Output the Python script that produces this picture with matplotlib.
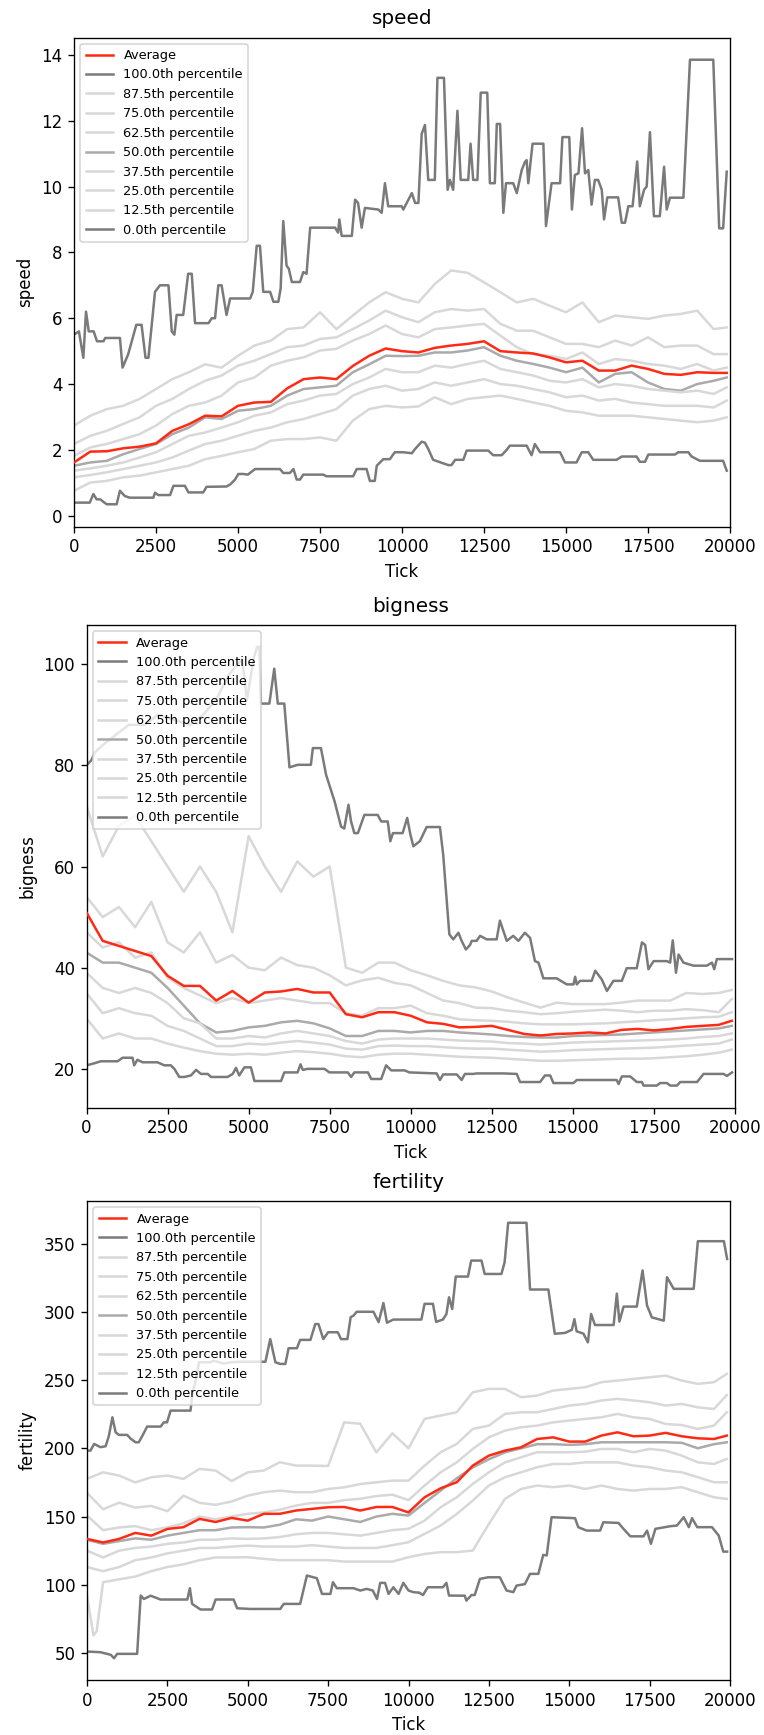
import matplotlib
matplotlib.use("Agg")
import matplotlib.pyplot as plt

# common tick grid for the smoother percentile lines
grid_ticks = list(range(0, 20000, 500)) + [19900]

pct_labels = ["100.0th percentile", "87.5th percentile", "75.0th percentile",
              "62.5th percentile", "50.0th percentile", "37.5th percentile",
              "25.0th percentile", "12.5th percentile", "0.0th percentile"]

# ---------------- speed ----------------
speed_avg = [1.62, 1.95, 1.96, 2.05, 2.1, 2.2, 2.58, 2.78, 3.04, 3.02, 3.34, 3.44, 3.46, 3.87, 4.15,
             4.2, 4.15, 4.55, 4.86, 5.08, 5.0,
             4.96, 5.1, 5.17, 5.22, 5.3, 5.0, 4.96, 4.93, 4.81, 4.66, 4.71, 4.41, 4.41, 4.56, 4.46,
             4.31, 4.28, 4.36, 4.34, 4.34]
speed_max = [(0, 5.5), (150, 5.6), (285, 4.8), (366, 6.2), (450, 5.6), (600, 5.6), (700, 5.3), (900, 5.3),
             (950, 5.4), (1400, 5.4), (1480, 4.5), (1650, 4.9), (1900, 5.8), (2060, 5.8), (2180, 4.8),
             (2270, 4.8), (2470, 6.8), (2620, 7.0), (2880, 7.0), (2980, 5.6), (3060, 5.5), (3130, 6.1),
             (3330, 6.1), (3480, 7.35), (3590, 7.35), (3690, 5.85), (4100, 5.85), (4200, 6.0), (4300, 6.0),
             (4400, 7.0), (4500, 7.0), (4650, 6.1), (4760, 6.6), (5370, 6.6), (5450, 6.8), (5570, 8.2),
             (5670, 8.2), (5770, 6.8), (5980, 6.8), (6080, 6.5), (6230, 6.5), (6300, 6.9), (6380, 8.95),
             (6480, 7.6), (6550, 7.5), (6640, 7.1), (6890, 7.1), (6990, 7.4), (7090, 7.35), (7200, 8.75),
             (7960, 8.75), (8050, 8.6), (8090, 9.0), (8160, 8.5), (8470, 8.5), (8570, 9.6), (8660, 9.5),
             (8770, 8.75), (8870, 9.35), (9280, 9.3), (9380, 9.2), (9480, 10.1), (9580, 9.4), (9990, 9.4),
             (10040, 9.3), (10300, 9.8), (10400, 9.5), (10500, 9.5), (10600, 11.6), (10700, 11.87),
             (10800, 10.2), (11000, 10.2), (11080, 13.3), (11280, 13.3), (11390, 9.9), (11460, 10.2),
             (11560, 9.9), (11690, 12.3), (11790, 10.2), (12020, 10.2), (12090, 11.3), (12170, 10.2),
             (12300, 10.2), (12400, 12.85), (12600, 12.85), (12680, 10.1), (12830, 10.1), (12890, 11.9),
             (12990, 11.9), (13090, 9.2), (13170, 10.1), (13390, 10.1), (13500, 9.8), (13650, 10.5),
             (13750, 10.75), (13800, 10.8), (13850, 10.1), (13980, 11.3), (14310, 11.3), (14390, 8.8),
             (14560, 10.1), (14820, 10.1), (14890, 11.5), (15100, 11.5), (15180, 9.3), (15270, 10.35),
             (15380, 10.4), (15490, 11.77), (15580, 10.4), (15680, 10.5), (15780, 9.45), (15880, 10.2),
             (15980, 10.2), (16090, 9.9), (16160, 9.0), (16260, 9.67), (16590, 9.67), (16700, 8.9),
             (16800, 8.9), (16900, 9.4), (17030, 9.4), (17170, 10.76), (17250, 9.4), (17380, 9.9),
             (17460, 10.0), (17560, 11.65), (17680, 9.1), (17860, 9.1), (17990, 10.6), (18070, 9.3),
             (18170, 9.66), (18580, 9.66), (18780, 13.85), (19490, 13.85), (19670, 8.73), (19790, 8.73),
             (19900, 10.45)]
speed_p875 = [2.74, 3.04, 3.24, 3.34, 3.55, 3.85, 4.15, 4.36, 4.6, 4.5, 4.86, 5.17, 5.32, 5.67, 5.72,
              6.18, 5.67, 6.08, 6.48, 6.79, 6.59,
              6.48, 7.04, 7.45, 7.38, 7.09, 6.79, 6.48, 6.59, 6.38, 6.18, 6.48, 5.88, 6.08, 6.03, 5.98,
              6.08, 6.13, 6.23, 5.67, 5.72]
speed_p75 = [2.18, 2.43, 2.58, 2.79, 2.99, 3.34, 3.55, 3.85, 4.1, 4.26, 4.56, 4.71, 4.91, 5.12, 5.17,
             5.37, 5.42, 5.67, 5.93, 6.23, 6.03,
             5.88, 6.18, 6.28, 6.23, 6.28, 5.83, 5.62, 5.62, 5.42, 5.22, 5.22, 5.12, 5.32, 5.17, 5.42,
             5.12, 5.17, 5.17, 4.91, 4.91]
speed_p625 = [1.82, 2.08, 2.18, 2.33, 2.48, 2.74, 3.09, 3.34, 3.44, 3.65, 4.05, 4.2, 4.56, 4.71, 4.81,
              5.02, 5.07, 5.32, 5.52, 5.78, 5.52,
              5.42, 5.67, 5.72, 5.78, 5.83, 5.47, 5.12, 4.91, 4.86, 4.76, 4.96, 4.61, 4.76, 4.71, 4.61,
              4.56, 4.46, 4.61, 4.41, 4.5]
speed_p50 = [1.52, 1.62, 1.67, 1.87, 2.03, 2.18, 2.48, 2.68, 2.99, 2.94, 3.19, 3.24, 3.34, 3.65, 3.85,
             3.9, 3.95, 4.36, 4.6, 4.86, 4.85,
             4.86, 4.96, 4.96, 5.02, 5.12, 4.86, 4.71, 4.61, 4.5, 4.36, 4.5, 4.05, 4.31, 4.36, 4.05,
             3.85, 3.8, 4.0, 4.1, 4.2]
speed_p375 = [1.37, 1.44, 1.52, 1.62, 1.77, 1.93, 2.18, 2.43, 2.53, 2.68, 2.84, 3.04, 3.14, 3.39, 3.5,
              3.65, 3.7, 4.0, 4.2, 4.46, 4.36,
              4.36, 4.56, 4.5, 4.61, 4.71, 4.46, 4.36, 4.26, 4.1, 4.05, 4.15, 3.9, 4.0, 3.95, 3.85,
              3.8, 3.75, 3.8, 3.7, 3.9]
speed_p25 = [1.17, 1.24, 1.32, 1.42, 1.52, 1.62, 1.77, 1.98, 2.18, 2.28, 2.43, 2.58, 2.68, 2.84, 2.94,
             3.09, 3.24, 3.65, 3.85, 3.95, 3.8,
             3.85, 4.05, 3.95, 4.05, 4.15, 4.0, 3.95, 3.85, 3.75, 3.6, 3.65, 3.5, 3.55, 3.44, 3.39,
             3.34, 3.34, 3.34, 3.29, 3.5]
speed_p125 = [0.76, 1.01, 1.06, 1.17, 1.22, 1.32, 1.42, 1.52, 1.72, 1.82, 1.93, 2.03, 2.28, 2.33, 2.33,
              2.38, 2.28, 2.89, 3.24, 3.34, 3.29,
              3.32, 3.6, 3.39, 3.55, 3.6, 3.65, 3.55, 3.44, 3.34, 3.19, 3.14, 3.04, 3.04, 3.04, 2.99,
              2.94, 2.89, 2.84, 2.89, 2.99]
speed_min = [(0, 0.4), (480, 0.4), (590, 0.66), (690, 0.5), (800, 0.5), (900, 0.42), (1000, 0.35),
             (1300, 0.35), (1400, 0.76), (1550, 0.6), (1700, 0.55), (2420, 0.55), (2470, 0.7), (2570, 0.63),
             (2930, 0.63), (3030, 0.91), (3380, 0.91), (3490, 0.71), (3940, 0.71), (4040, 0.88),
             (4650, 0.89), (4760, 0.95), (4910, 1.1), (5010, 1.27), (5160, 1.27), (5300, 1.25),
             (5520, 1.42), (6280, 1.42), (6380, 1.3), (6580, 1.3), (6690, 1.42), (6790, 1.1), (6890, 1.1),
             (6990, 1.25), (7600, 1.25), (7700, 1.2), (8510, 1.2), (8620, 1.42), (8920, 1.42), (9020, 1.06),
             (9170, 1.06), (9230, 1.52), (9430, 1.72), (9630, 1.72), (9780, 1.93), (10040, 1.93),
             (10300, 1.9), (10400, 2.03), (10600, 2.25), (10700, 2.22), (10800, 2.03), (10950, 1.70),
             (11410, 1.54), (11510, 1.54), (11620, 1.70), (11870, 1.70), (11970, 1.98), (12630, 1.98),
             (12780, 1.84), (13040, 1.84), (13170, 1.98), (13290, 2.13), (13800, 2.13), (13950, 1.84),
             (14050, 2.18), (14210, 1.93), (14820, 1.93), (14970, 1.62), (15320, 1.62), (15480, 1.93),
             (15680, 1.93), (15830, 1.70), (16540, 1.70), (16700, 1.8), (17150, 1.8), (17250, 1.64),
             (17410, 1.64), (17510, 1.86), (18320, 1.86), (18420, 1.93), (18730, 1.93), (18830, 1.8),
             (19080, 1.67), (19790, 1.67), (19900, 1.37)]

# ---------------- bigness ----------------
big_avg = [50.9, 45.3, 44.3, 43.3, 42.3, 38.4, 36.4, 36.4, 33.5, 35.4, 33.1, 35.1, 35.3, 35.8, 35.1,
           35.1, 30.8, 30.2, 31.2, 31.2, 30.5,
           29.2, 28.9, 28.2, 28.3, 28.5, 27.7, 26.9, 26.6, 26.9, 27.0, 27.2, 27.0, 27.7, 27.9, 27.6,
           27.9, 28.3, 28.5, 28.7, 29.5]
big_max = [(0, 80), (150, 81), (250, 82.5), (500, 84), (900, 86), (1300, 88), (1800, 88), (2200, 90),
           (2700, 89), (3200, 88), (3600, 90), (4000, 93), (4400, 98), (4800, 101), (4950, 93), (5150, 101),
           (5260, 103.4), (5330, 103.4), (5380, 92.2), (5640, 92.2), (5790, 99.1), (5900, 92.2),
           (6100, 92.2), (6260, 79.6), (6510, 80.1), (6920, 80.1), (6980, 83.4), (7230, 83.4), (7390, 78.1),
           (7650, 72.9), (7850, 67.9), (7950, 67.5), (8080, 72.2), (8160, 68.9), (8260, 66.6), (8370, 66.6),
           (8570, 70.2), (8980, 70.2), (9090, 68.9), (9290, 68.9), (9370, 65), (9450, 66.6), (9750, 66.6),
           (9890, 69.6), (9990, 66.3), (10080, 64), (10280, 65), (10490, 67.8), (10900, 67.8),
           (11000, 62.4), (11110, 53.2), (11190, 46.6), (11310, 45.6), (11470, 46.9), (11570, 45.3),
           (11700, 43.6), (11830, 44.5), (11880, 45.3), (12030, 45.3), (12140, 46.3), (12340, 45.6),
           (12650, 45.6), (12750, 49.3), (12960, 45.3), (13160, 46.3), (13320, 45.3), (13520, 46.9),
           (13680, 45.9), (13830, 41.3), (13940, 41), (14090, 37.9), (14500, 37.9), (14810, 36.7),
           (15020, 36.7), (15070, 38.2), (15120, 36.7), (15220, 37.4), (15580, 37.4), (15690, 39.4),
           (15890, 37.7), (16050, 35.4), (16250, 37.4), (16510, 37.4), (16660, 39.9), (16970, 39.9),
           (17130, 45), (17230, 44.5), (17330, 39.7), (17490, 41.3), (17900, 41.3), (18000, 41),
           (18080, 45.4), (18180, 39.0), (18260, 42.6), (18410, 41.0), (18720, 40.4), (19130, 40.4),
           (19290, 41), (19360, 39.7), (19440, 41.7), (19910, 41.7)]
big_p875 = [72, 62, 68, 70, 65, 60, 55, 60, 55, 47, 66, 60, 55, 61, 58, 60, 40, 39, 41, 41, 39.5,
            38.5, 37.4, 36.5, 36.1, 35.3, 34.1, 33.1, 32.1, 33.1, 32.8, 32.8, 32.8, 33.1, 33.5, 33.5,
            33.5, 35, 34.8, 35, 35.6]
big_p75 = [54, 50, 52, 48, 53, 45, 43, 47, 41, 42.5, 40, 39.5, 42, 40.5, 40, 38.5, 36.5, 37.5, 38, 37, 36.5,
           35, 33.5, 33, 32.1, 32, 31.5, 31.2, 30.8, 31, 31.3, 31.5, 31.7, 31.5, 31.2, 31.5,
           31.5, 31.8, 31.6, 31.2, 33.8]
big_p625 = [47, 44, 45, 42, 43, 38, 36, 34.5, 33, 34, 33, 33.5, 34, 33.5, 33, 33, 31, 30.5, 32, 32, 32.5,
            31, 30.5, 29.8, 29.6, 29.5, 29.3, 29.0, 28.8, 28.8, 28.8, 28.9, 29.0, 29.2, 29.4, 29.6,
            29.8, 30.0, 30.2, 30.3, 31.2]
big_p50 = [43, 41, 41, 40, 39, 36, 32.5, 29, 27.2, 27.5, 28.2, 28.5, 29.2, 29.5, 29, 28, 26.5, 26.5, 27.5,
           27.5, 27.2,
           27.5, 27.5, 27.2, 27, 26.8, 26.5, 26.3, 26.2, 26.2, 26.5, 26.6, 26.7, 26.8, 27, 27.2,
           27.4, 27.6, 27.8, 28, 28.5]
big_p375 = [39, 36, 35, 36, 35, 33, 30, 29, 26, 26, 26.5, 26.2, 27, 27.5, 27, 26.5, 25.5, 25, 25.8, 26, 26,
            26, 25.8, 25.6, 25.5, 25.4, 25.1, 25.0, 24.8, 25, 25.2, 25.3, 25.4, 25.5, 25.6, 25.7,
            25.8, 26, 26.3, 26.5, 27]
big_p25 = [35, 31, 32, 31, 30.5, 28.5, 27.5, 26, 24.5, 24.5, 25, 24.8, 25.2, 25.5, 25.2, 24.8, 24, 23.8,
           24.5, 24.6, 24.5,
           24.5, 24.3, 24.1, 24, 24, 23.8, 23.6, 23.4, 23.5, 23.7, 23.8, 23.9, 24, 24.1, 24.2,
           24.4, 24.6, 24.8, 25, 25.8]
big_p125 = [30, 26, 27, 26, 26, 25, 24.2, 23.5, 23, 22.8, 23, 22.8, 23.2, 23.5, 23.3, 23, 22.5, 22.3, 22.8,
            23, 23,
            22.8, 22.6, 22.4, 22.3, 22.2, 22, 21.8, 21.6, 21.6, 21.7, 21.8, 21.9, 22, 22, 22.1,
            22.3, 22.5, 22.8, 23.2, 23.8]
big_min = [(0, 20.7), (240, 21.1), (440, 21.5), (960, 21.5), (1110, 22.2), (1420, 22.2), (1470, 20.7),
           (1570, 21.8), (1730, 21.3), (2190, 21.3), (2400, 20.7), (2600, 20.7), (2710, 20), (2860, 18.4),
           (3020, 18.4), (3220, 18.7), (3380, 19.8), (3530, 19), (3740, 19), (3840, 18.4), (4350, 18.4),
           (4510, 19), (4610, 20.2), (4710, 18.7), (4870, 20.3), (5070, 20.3), (5180, 17.6), (6000, 17.6),
           (6100, 19.3), (6510, 19.3), (6600, 20.9), (6670, 19.8), (6820, 20), (7340, 20), (7490, 19.3),
           (8060, 19.3), (8160, 18.4), (8260, 19.3), (8680, 19.3), (8780, 18), (9090, 18), (9240, 20.7),
           (9400, 19.7), (9810, 19.7), (9960, 19.3), (10800, 19.1), (10900, 17.8), (11000, 18.9),
           (11420, 18.9), (11570, 17.8), (11670, 19), (11930, 19), (12030, 19.1), (12860, 19.1),
           (13270, 19), (13370, 17.4), (13990, 17.4), (14140, 18.7), (14300, 18.7), (14400, 17.2),
           (15020, 17.2), (15120, 17.8), (16350, 17.8), (16410, 17.0), (16510, 18.5), (16770, 18.5),
           (16970, 17.4), (17130, 17.4), (17180, 16.7), (17590, 16.7), (17690, 17.2), (17900, 17.2),
           (18000, 16.7), (18210, 16.7), (18310, 17.4), (18830, 17.4), (19030, 19.0), (19650, 19.0),
           (19750, 18.6), (19910, 19.3)]

# ---------------- fertility ----------------
fert_avg = [133.6, 131, 133.6, 138, 136, 140.9, 142.2, 148.3, 146, 149, 147, 152, 152, 154.4, 155.6,
            156.8, 157, 154.4, 157, 157, 153,
            164.1, 170.7, 175.1, 187.3, 194.6, 198.3, 200.7, 206.8, 208, 204.9, 204.9, 209.3, 211.7,
            208.8, 209.3, 211.3, 208.8, 207.3, 206.8, 209.3]
fert_max = [(0, 198.3), (110, 198.3), (220, 203.2), (420, 200.8), (580, 201.5), (680, 209), (790, 222.7),
            (890, 211.7), (990, 209.8), (1250, 209.8), (1360, 207), (1510, 204.4), (1610, 204.4),
            (1720, 209), (1870, 215.9), (2290, 215.9), (2390, 219), (2490, 219), (2600, 227.6),
            (3220, 227.6), (3270, 238.6), (3370, 248.3), (3480, 263), (3840, 263), (3940, 264.2),
            (4250, 262), (4460, 263), (4770, 263.4), (5550, 263.4), (5700, 280), (5860, 263), (6010, 261.8),
            (6170, 261.8), (6270, 273.3), (6530, 273.3), (6630, 279.4), (6950, 279.4), (7100, 291),
            (7200, 291), (7350, 280), (7500, 285), (7800, 285), (7900, 280), (8100, 280), (8200, 296),
            (8290, 297.2), (8390, 300), (8910, 300), (9070, 292.4), (9220, 306.4), (9330, 292),
            (9530, 294.3), (10400, 294.3), (10500, 305.8), (10760, 305.8), (10860, 292.6), (11070, 294.3),
            (11180, 298.4), (11260, 310.6), (11360, 302), (11470, 325.8), (11850, 325.8), (11950, 337.5),
            (12270, 337.5), (12370, 327.7), (12890, 327.7), (12990, 336.3), (13100, 365.2), (13670, 365.2),
            (13780, 316.3), (14350, 316.3), (14550, 283.9), (14870, 284.5), (15080, 286.8), (15160, 294.6),
            (15230, 285.7), (15440, 284), (15580, 277.6), (15680, 298.4), (15800, 290.3), (16380, 290.3),
            (16480, 313.3), (16560, 292.8), (16690, 303.8), (17100, 303.8), (17280, 330.3), (17420, 304.5),
            (17570, 295.9), (17940, 293.5), (18040, 325.3), (18250, 316.8), (18870, 316.8), (19000, 351.7),
            (19810, 351.7), (19910, 338.7)]
fert_p875 = [177.6, 182.4, 180, 175, 178.8, 180, 177.6, 184.9, 183.7, 176, 182.4, 183.7, 189.8, 187.3,
             187.3, 187, 219, 218, 197, 211, 200,
             221.5, 224, 226.4, 241, 243.5, 243.5, 237.4, 238.6, 242.3, 243.5, 244.7, 248.4, 249.6,
             250.8, 252, 253.2, 249.6, 247.2, 248.4, 254.5]
fert_p75 = [167.4, 155.3, 160.2, 156.5, 157.8, 153.9, 165.3, 160, 158.6, 161, 165.3, 167.8, 169, 167.8,
            167.8, 170.2, 171.4, 173.8, 175.1, 176.3, 176.3,
            187.3, 197.1, 203.2, 214.2, 216.6, 225.2, 226.4, 226.4, 228.8, 231.3, 232.5, 235, 236.2,
            235, 233.7, 231.3, 232.5, 230, 228.8, 239]
fert_p625 = [150.7, 140, 142, 143, 140, 142, 145, 150, 148, 150, 152, 153, 155, 158, 160, 160, 162, 163,
             165, 166, 162,
             172.7, 182.4, 189.7, 199.5, 208, 212.9, 215.4, 216.6, 219, 220.3, 221.5, 222.7, 225.2,
             222.7, 221.5, 217.8, 217, 214.2, 216.6, 226.4]
fert_p50 = [133, 130, 132, 134, 133, 136, 138, 140, 140, 142, 142.2, 142, 144, 148, 147, 150, 148, 146,
            150, 152, 150.7,
            160, 169, 178, 186, 192, 197, 200, 203, 203, 202.5, 203, 204.4, 204.4, 204.4, 204.4,
            204.4, 204, 200, 203, 204.4]
fert_p375 = [125, 120, 125, 127, 128, 130, 131, 133, 133, 134, 133.6, 134, 135, 137, 138, 138, 137, 136,
             138, 140, 141,
             147, 156.8, 164.1, 173.9, 182.4, 189.7, 193.4, 197.1, 197.1, 197.1, 197.5, 199.5, 199.5,
             197.1, 199.5, 198.3, 194.6, 189.7, 188.5, 192.2]
fert_p25 = [113, 110, 113, 118, 120, 123, 125, 127, 127, 128, 128.7, 128, 128, 128, 129, 128, 127, 127,
            127, 129, 131.2,
            137.3, 143.4, 151.9, 161.7, 172.7, 178.8, 182.4, 186.1, 188.5, 188.5, 189.7, 189.7, 189.7,
            187.3, 186.1, 183.7, 182.4, 178.8, 175.1, 175.1]
fert_p125_ticks = [0, 200, 300, 500] + list(range(1000, 20000, 500)) + [19900]
fert_p125 = [92, 63, 66, 101.9,
             104, 106, 110, 113, 115, 118, 120, 120, 120.2, 119, 118, 118, 118, 118, 117, 117, 117, 117,
             120.2,
             122.6, 123.9, 123.9, 125.1, 144.6, 162.9, 170.2, 172.7, 171.5, 172.7, 170.2, 172.7, 170.2,
             169, 170.2, 170.2, 171.5, 167.8, 164.1,
             162.9]
fert_min = [(0, 51.1), (420, 50.6), (740, 48.7), (840, 46.2), (940, 49.4), (1560, 49.4), (1670, 92.1),
            (1770, 89.6), (1980, 92), (2290, 89.2), (3120, 89.2), (3200, 97.5), (3270, 86), (3530, 81.9),
            (3890, 81.9), (4000, 89.2), (4560, 89.2), (4670, 82.8), (5080, 82.3), (6010, 82.3), (6120, 86),
            (6630, 86), (6840, 106.8), (7150, 104.8), (7310, 93.3), (7570, 93.3), (7650, 101.9),
            (7770, 97.5), (8290, 97.5), (8500, 95.8), (8700, 97), (8890, 95.8), (9020, 89.6), (9120, 101.4),
            (9270, 101.4), (9380, 93.3), (9530, 98.2), (9690, 93.3), (9840, 101.4), (10000, 95.8),
            (10150, 94.6), (10340, 94.2), (10450, 92.5), (10600, 98.2), (11070, 98.2), (11180, 101.4),
            (11260, 92.1), (11750, 92), (11800, 88.4), (11960, 92.5), (12060, 92.5), (12220, 104.3),
            (12480, 105.5), (12840, 105.5), (13050, 95.8), (13260, 94.6), (13360, 99.4), (13620, 100.5),
            (13780, 108), (14040, 108), (14190, 121.9), (14300, 121.5), (14450, 149.5), (15180, 148.8),
            (15280, 142.2), (15540, 139.7), (15960, 139.7), (16060, 145.8), (16530, 145.3), (16690, 140.9),
            (16900, 135.5), (17310, 135.5), (17420, 139.7), (17540, 130), (17680, 141), (18140, 142.9),
            (18350, 143.4), (18560, 149.5), (18720, 142.2), (18820, 148.8), (18980, 142.2), (19440, 142.2),
            (19650, 136), (19790, 124.3), (19910, 124.3)]

DARK = "#7a7a7a"
MID = "#aaaaaa"
LIGHT = "#d8d8d8"
RED = "#ff2a14"


def unzip(points):
    return [p[0] for p in points], [p[1] for p in points]


def draw_panel(ax, name, avg, mx, p875, p75, p625, p50, p375, p25, p125, mn, p125_ticks=None):
    ax.plot(grid_ticks, avg, color=RED, label="Average", zorder=3)
    series = [
        (unzip(mx), DARK),
        ((grid_ticks, p875), LIGHT),
        ((grid_ticks, p75), LIGHT),
        ((grid_ticks, p625), LIGHT),
        ((grid_ticks, p50), MID),
        ((grid_ticks, p375), LIGHT),
        ((grid_ticks, p25), LIGHT),
        ((p125_ticks or grid_ticks, p125), LIGHT),
        (unzip(mn), DARK),
    ]
    for label, ((x, y), color) in zip(pct_labels, series):
        ax.plot(x, y, color=color, label=label, zorder=2)
    ax.set_xlim(0, 20000)
    ax.set_title(name, pad=8)
    ax.set_xlabel("Tick")
    ax.set_ylabel(name)
    ax.legend(loc="upper left", fontsize=7.7, handlelength=2.15)


W, H = 764, 1735
fig = plt.figure(figsize=(W / 120, H / 120), dpi=120)

# axes boxes in pixels: left, top, right, bottom
boxes = [(74, 37.5, 730, 526.5), (86.5, 625, 735, 1107.5), (87, 1201, 730, 1680)]
axes = [fig.add_axes([l / W, (H - b) / H, (r - l) / W, (b - t) / H]) for l, t, r, b in boxes]

draw_panel(axes[0], "speed", speed_avg, speed_max, speed_p875, speed_p75, speed_p625, speed_p50,
           speed_p375, speed_p25, speed_p125, speed_min)
draw_panel(axes[1], "bigness", big_avg, big_max, big_p875, big_p75, big_p625, big_p50,
           big_p375, big_p25, big_p125, big_min)
draw_panel(axes[2], "fertility", fert_avg, fert_max, fert_p875, fert_p75, fert_p625, fert_p50,
           fert_p375, fert_p25, fert_p125, fert_min, p125_ticks=fert_p125_ticks)

fig.savefig("out.png", dpi=120)
